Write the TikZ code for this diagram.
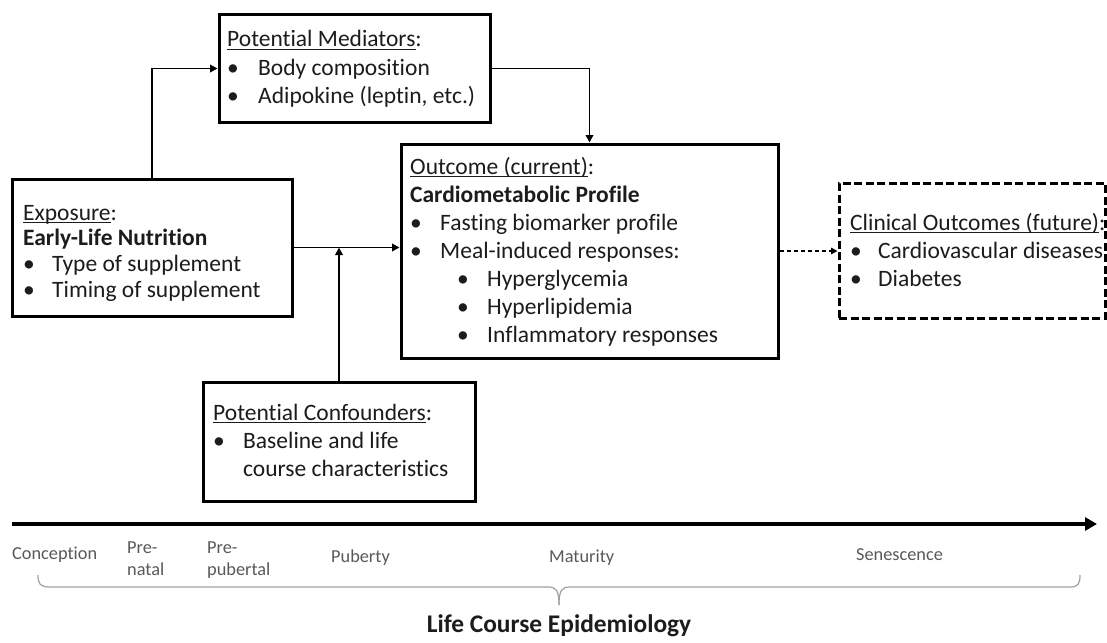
\documentclass[tikz,border=0pt]{standalone}
\usepackage{fontspec}
\setmainfont{Carlito}[Ligatures=NoCommon]
\usetikzlibrary{arrows.meta}
\definecolor{ink}{HTML}{1C1C1C}
\definecolor{tlgray}{HTML}{595959}
\definecolor{bracegray}{HTML}{A0A0A0}
% underline at a fixed depth, crossing descenders
\newcommand{\undl}[1]{\setbox0\hbox{#1}\rlap{\rule[-3pt]{\wd0}{1.3pt}}\box0}
\begin{document}
\begin{tikzpicture}[x=1pt,y=-1pt,
  box/.style={draw=black, line width=3pt, rectangle, inner sep=0pt},
  dbox/.style={box, dash pattern=on 8pt off 3.5pt},
  conn/.style={draw=black, line width=1.8pt, -{Triangle[length=7.5pt,width=7.5pt]}},
  dconn/.style={draw=black, line width=1.5pt, dash pattern=on 4.5pt off 2.5pt, -{Triangle[length=6.5pt,width=6.5pt]}},
  txt/.style={anchor=base west, inner sep=0pt, font=\fontsize{23.5}{28}\selectfont, text=ink},
  tl/.style={anchor=base west, inner sep=0pt, font=\fontsize{18.3}{22}\selectfont, text=tlgray},
  timeline/.style={draw=black, line width=4.5pt, -{Triangle[length=12pt,width=13pt]}},
  brace/.style={draw=bracegray, line width=1.2pt}]
\fill[white] (0,0) rectangle (1107,642);
\useasboundingbox (0,0) rectangle (1107,642);

% boxes
\node[box, minimum width=271pt, minimum height=107pt] (med) at (354.5,68.5) {};
\node[box, minimum width=280pt, minimum height=137pt] (expo) at (152,247.5) {};
\node[box, minimum width=377pt, minimum height=214pt] (outc) at (589.5,251) {};
\node[box, minimum width=272pt, minimum height=119pt] (conf) at (339,441.5) {};
\node[dbox, minimum width=266pt, minimum height=135pt] (clin) at (972,250.5) {};

% mediators
\node[txt] (medh) at (227,47) {\undl{Potential Mediators}:};
\node[txt] (medb1) at (227,75) {•};
\node[txt] (medt1) at (258,75) {Body composition};
\node[txt] (medb2) at (227,103) {•};
\node[txt] (medt2) at (258,103) {Adipokine (leptin, etc.)};

% exposure
\node[txt] (exph) at (23,220) {\undl{Exposure}:};
\node[txt] (expn) at (23,245) {\bfseries Early-Life Nutrition};
\node[txt] (expb1) at (23,271) {•};
\node[txt] (expt1) at (52,271) {Type of supplement};
\node[txt] (expb2) at (23,297) {•};
\node[txt] (expt2) at (52,297) {Timing of supplement};

% outcome
\node[txt] (outh) at (410,174) {\undl{Outcome (current)}:};
\node[txt] (outn) at (410,202) {\bfseries Cardiometabolic Profile};
\node[txt] (outb1) at (410,230) {•};
\node[txt] (outt1) at (440,230) {Fasting biomarker profile};
\node[txt] (outb2) at (410,258) {•};
\node[txt] (outt2) at (440,258) {Meal-induced responses:};
\node[txt] (outb3) at (457,286) {•};
\node[txt] (outt3) at (487,286) {Hyperglycemia};
\node[txt] (outb4) at (457,314) {•};
\node[txt] (outt4) at (487,314) {Hyperlipidemia};
\node[txt] (outb5) at (457,342) {•};
\node[txt] (outt5) at (487,342) {Inflammatory responses};

% confounders
\node[txt] (confh) at (213,420) {\undl{Potential Confounders}:};
\node[txt] (confb1) at (213,448) {•};
\node[txt] (conft1) at (243,448) {Baseline and life};
\node[txt] (conft2) at (243,476) {course characteristics};

% clinical outcomes
\node[txt] (clinh) at (850,230) {\undl{Clinical Outcomes (future)}:};
\node[txt] (clinb1) at (850,258) {•};
\node[txt] (clint1) at (878,258) {Cardiovascular diseases};
\node[txt] (clinb2) at (850,286) {•};
\node[txt] (clint2) at (878,286) {Diabetes};

% connectors
\draw[conn] (expo.north) |- (med.west);
\draw[conn] (med.east) -| (outc.north);
\draw[conn] (expo.east) -- (expo.east -| outc.west);
\draw[conn] (conf.north) -- (conf.north |- expo.east);
\draw[dconn] (outc.east) -- (outc.east -| clin.west);

% life-course time axis
\coordinate (tl0) at (12,524);
\coordinate (tl1) at (1097,524);
\draw[timeline] (tl0) -- (tl1);

\node[tl] (conc) at (12,559) {Conception};
\node[tl] (pre1) at (127,553) {Pre-};
\node[tl] (nat) at (127,575) {natal};
\node[tl] (pre2) at (207,553) {Pre-};
\node[tl] (pub) at (207,575) {pubertal};
\node[tl] (pubty) at (331,562) {Puberty};
\node[tl] (mat) at (549,562) {Maturity};
\node[tl] (sen) at (856,560) {Senescence};

% brace under the axis
\draw[brace] (38,575) .. controls (38,584) and (40,587) .. (50,587) -- (548,587)
  .. controls (556,587) and (559,590) .. (559,605);
\draw[brace] (559,605) .. controls (559,590) and (562,587) .. (570,587) -- (1070,587)
  .. controls (1078,587) and (1080,584) .. (1080,575);

\node[anchor=base, inner sep=0pt, font=\bfseries\fontsize{25.4}{30}\selectfont, text=ink] (title) at (559,632) {Life Course Epidemiology};
\end{tikzpicture}
\end{document}
